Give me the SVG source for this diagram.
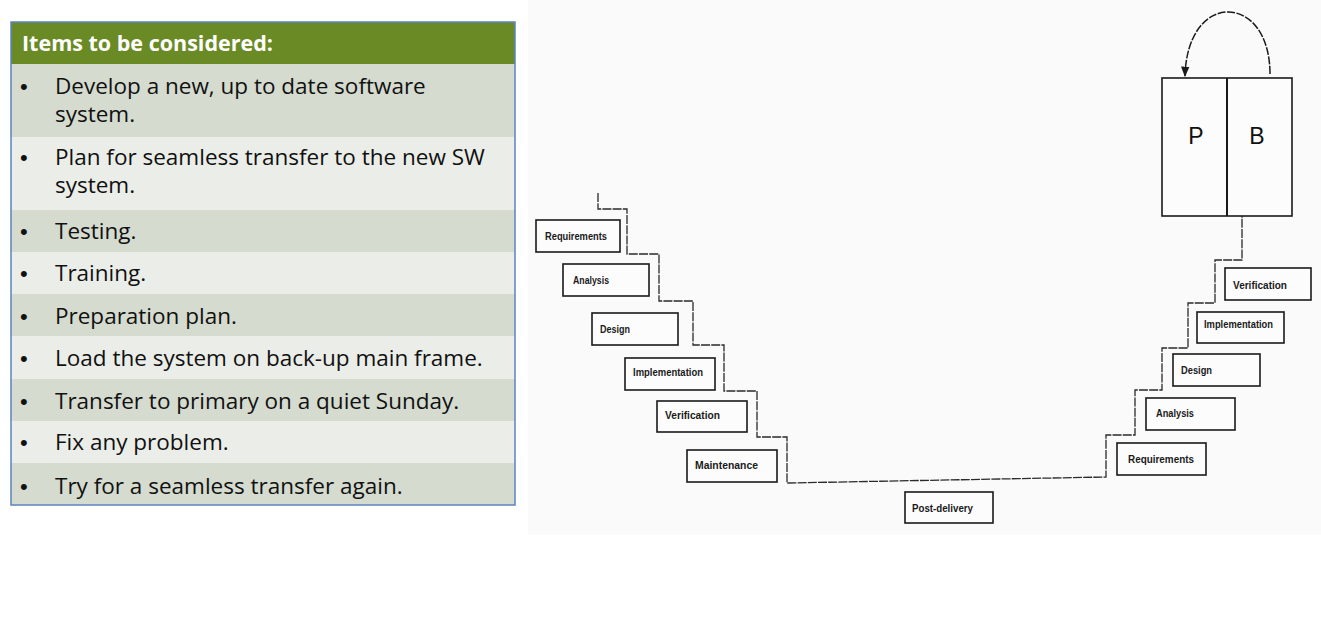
<svg xmlns="http://www.w3.org/2000/svg" width="1321" height="630" viewBox="0 0 1321 630">
<defs>
<style>
.row-d{fill:#d5dbcf}
.row-l{fill:#ebede8}
.item{font-family:"Open Sans","Liberation Sans",Arial,sans-serif;font-size:22.5px;fill:#111}
.bul{font-family:"Liberation Sans",Arial,sans-serif;font-size:22px;fill:#111}
.hdr{font-family:"Open Sans","Liberation Sans",Arial,sans-serif;font-size:21.5px;font-weight:bold;fill:#fff}
.box{fill:#fcfcfc;stroke:#1a1a1a;stroke-width:1.6}
.lbl{font-family:"Liberation Sans",Arial,sans-serif;font-size:11.5px;font-weight:bold;fill:#1a1a1a}
.big{font-family:"Liberation Sans",Arial,sans-serif;font-size:23px;fill:#111}
.stair{fill:none;stroke:#2a2a2a;stroke-width:1.3;stroke-dasharray:9 1.2}
</style>
<marker id="arr" viewBox="0 0 10 10" refX="9" refY="5" markerWidth="7" markerHeight="7" orient="auto">
<path d="M0,1 L10,5 L0,9 z" fill="#1a1a1a"/>
</marker>
</defs>
<rect width="1321" height="630" fill="#fff"/>

<g id="table">
<rect x="11" y="22" width="504" height="42" fill="#6a8a26"/>
<rect x="11" y="64" width="504" height="73" class="row-d"/>
<rect x="11" y="137" width="504" height="73" class="row-l"/>
<rect x="11" y="210" width="504" height="42" class="row-d"/>
<rect x="11" y="252" width="504" height="42" class="row-l"/>
<rect x="11" y="294" width="504" height="42" class="row-d"/>
<rect x="11" y="336" width="504" height="43" class="row-l"/>
<rect x="11" y="379" width="504" height="42" class="row-d"/>
<rect x="11" y="421" width="504" height="42" class="row-l"/>
<rect x="11" y="463" width="504" height="42" class="row-d"/>
<rect x="11" y="22" width="504" height="483" fill="none" stroke="#5b84c0" stroke-width="1.5"/>
<text x="22" y="51" class="hdr">Items to be considered:</text>
<g class="bul">
<text x="20" y="94">•</text>
<text x="20" y="165">•</text>
<text x="20" y="239">•</text>
<text x="20" y="281">•</text>
<text x="20" y="324">•</text>
<text x="20" y="366">•</text>
<text x="20" y="409">•</text>
<text x="20" y="450">•</text>
<text x="20" y="494">•</text>
</g>
<g class="item">
<text x="55" y="94">Develop a new, up to date software</text>
<text x="55" y="122">system.</text>
<text x="55" y="165">Plan for seamless transfer to the new SW</text>
<text x="55" y="193">system.</text>
<text x="55" y="239">Testing.</text>
<text x="55" y="281">Training.</text>
<text x="55" y="324">Preparation plan.</text>
<text x="55" y="366">Load the system on back-up main frame.</text>
<text x="55" y="409">Transfer to primary on a quiet Sunday.</text>
<text x="55" y="450">Fix any problem.</text>
<text x="55" y="494">Try for a seamless transfer again.</text>
</g>
</g>

<rect x="528" y="0" width="793" height="535" fill="#fafafa"/>

<g id="connectors">
<path class="stair" d="M598,193 V209 H627 V254 H659 V301 H693 V345 H724 V391 H757 V437 H787 V483 L1106,477 V435 H1135 V390 H1162 V348 H1188 V303 H1215 V260 H1242 V216"/>
<path d="M1270,74 C1270,34 1250,12 1228,12 C1205,12 1186,36 1185,76" fill="none" stroke="#1a1a1a" stroke-width="1.5" stroke-dasharray="8 1.5" marker-end="url(#arr)"/>
</g>

<g id="pb">
<rect x="1162" y="78" width="130" height="138" class="box" stroke-width="2"/>
<line x1="1227" y1="78" x2="1227" y2="216" stroke="#1a1a1a" stroke-width="2"/>
<text x="1196" y="144" class="big" text-anchor="middle">P</text>
<text x="1257" y="144" class="big" text-anchor="middle">B</text>
</g>

<g id="l-req"><rect x="536" y="220" width="84" height="32" class="box"/><text x="545" y="240" class="lbl" textLength="62" lengthAdjust="spacingAndGlyphs">Requirements</text></g>
<g id="l-ana"><rect x="563" y="264" width="86" height="32" class="box"/><text x="573" y="284" class="lbl" textLength="36" lengthAdjust="spacingAndGlyphs">Analysis</text></g>
<g id="l-des"><rect x="592" y="313" width="86" height="32" class="box"/><text x="600" y="333" class="lbl" textLength="30" lengthAdjust="spacingAndGlyphs">Design</text></g>
<g id="l-imp"><rect x="625" y="358" width="90" height="32" class="box"/><text x="633" y="376" class="lbl" textLength="70" lengthAdjust="spacingAndGlyphs">Implementation</text></g>
<g id="l-ver"><rect x="657" y="401" width="90" height="31" class="box"/><text x="665" y="419" class="lbl" textLength="55" lengthAdjust="spacingAndGlyphs">Verification</text></g>
<g id="l-main"><rect x="687" y="450" width="90" height="32" class="box"/><text x="695" y="469" class="lbl" textLength="63" lengthAdjust="spacingAndGlyphs">Maintenance</text></g>
<g id="post"><rect x="905" y="492" width="88" height="31" class="box"/><text x="912" y="512" class="lbl" textLength="61" lengthAdjust="spacingAndGlyphs">Post-delivery</text></g>
<g id="r-ver"><rect x="1225" y="268" width="86" height="32" class="box"/><text x="1233" y="289" class="lbl" textLength="54" lengthAdjust="spacingAndGlyphs">Verification</text></g>
<g id="r-imp"><rect x="1197" y="312" width="87" height="31" class="box"/><text x="1204" y="328" class="lbl" font-size="10.5" textLength="69" lengthAdjust="spacingAndGlyphs">Implementation</text></g>
<g id="r-des"><rect x="1173" y="354" width="87" height="32" class="box"/><text x="1181" y="374" class="lbl" textLength="31" lengthAdjust="spacingAndGlyphs">Design</text></g>
<g id="r-ana"><rect x="1146" y="398" width="89" height="32" class="box"/><text x="1156" y="417" class="lbl" textLength="38" lengthAdjust="spacingAndGlyphs">Analysis</text></g>
<g id="r-req"><rect x="1117" y="443" width="89" height="32" class="box"/><text x="1128" y="463" class="lbl" textLength="66" lengthAdjust="spacingAndGlyphs">Requirements</text></g>
</svg>
